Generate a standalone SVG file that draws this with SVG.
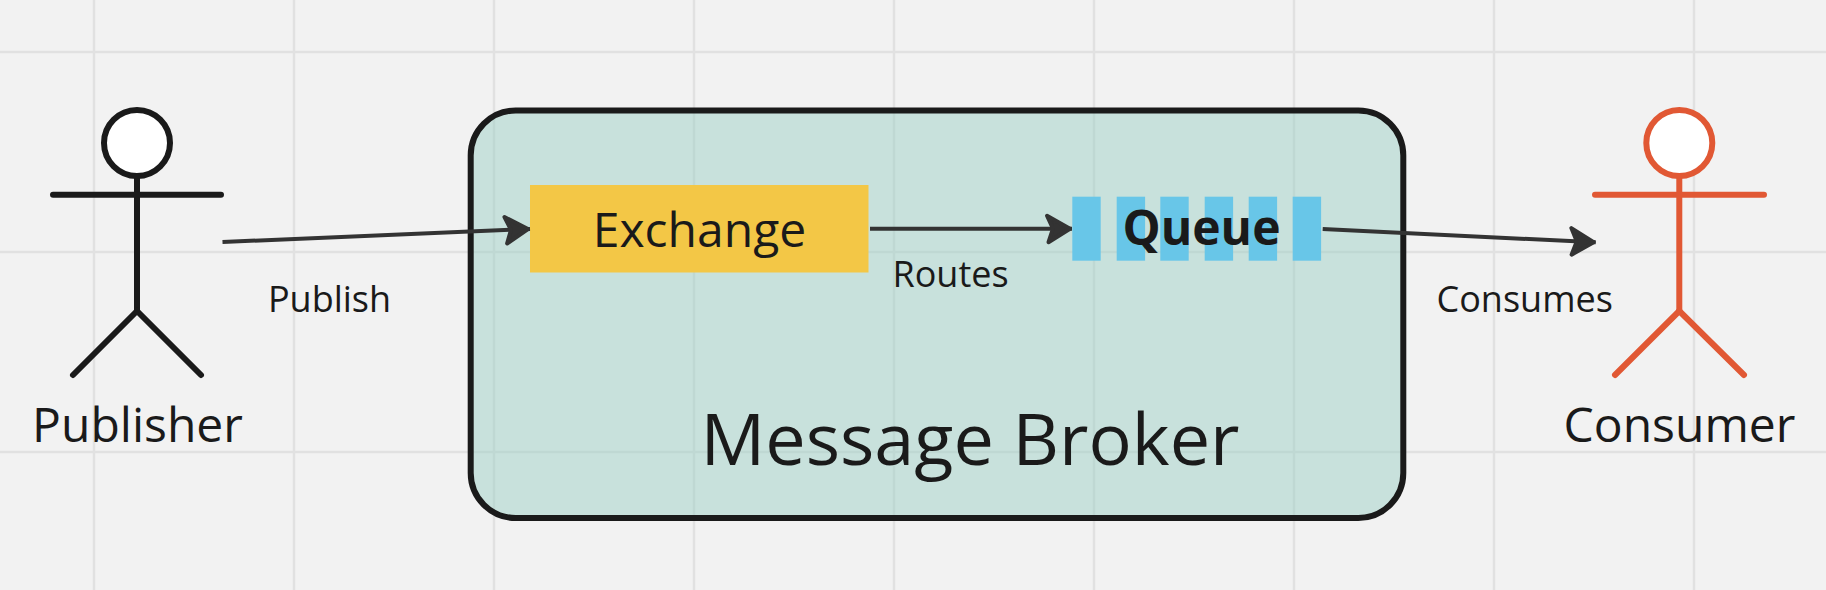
<svg xmlns="http://www.w3.org/2000/svg" width="1826" height="590" viewBox="0 0 1826 590">
<style>
text{font-family:"Open Sans","Noto Sans",sans-serif;fill:#1a1a1a}
.grid line{stroke:#e1e1e1;stroke-width:2.4}
.actor line{stroke-width:6;stroke-linecap:round;fill:none}
.actor circle{fill:#fff;stroke-width:6}
.pub line,.pub circle{stroke:#1a1a1a}
.con line,.con circle{stroke:#e15834}
.bar{fill:#68c6e8}
.conn line{stroke:#333;stroke-width:4;marker-end:url(#arrow)}
.edge{font-size:36px}
.big{font-size:48px}
</style>
<defs>
<marker id="arrow" markerUnits="userSpaceOnUse" markerWidth="36" markerHeight="40" viewBox="-32 -20 36 40" refX="0" refY="0" orient="auto">
<path d="M-25,-13 L-2,0 L-23.5,13.5 L-19,0 Z" fill="#333" stroke="#333" stroke-width="4" stroke-linejoin="round"/>
</marker>
</defs>
<rect width="1826" height="590" fill="#f2f2f2"/>
<g class="grid">
<line x1="94" y1="0" x2="94" y2="590"/><line x1="294" y1="0" x2="294" y2="590"/><line x1="494" y1="0" x2="494" y2="590"/><line x1="694" y1="0" x2="694" y2="590"/><line x1="894" y1="0" x2="894" y2="590"/><line x1="1094" y1="0" x2="1094" y2="590"/><line x1="1294" y1="0" x2="1294" y2="590"/><line x1="1494" y1="0" x2="1494" y2="590"/><line x1="1694" y1="0" x2="1694" y2="590"/>
<line x1="0" y1="52" x2="1826" y2="52"/><line x1="0" y1="252" x2="1826" y2="252"/><line x1="0" y1="452" x2="1826" y2="452"/>
</g>
<g id="broker">
<rect x="470.7" y="110.5" width="932.6" height="407.5" rx="45" ry="45" fill="#9ed0c6" fill-opacity="0.5" stroke="#1a1a1a" stroke-width="6"/>
<text x="970" y="465" font-size="72" text-anchor="middle">Message Broker</text>
</g>
<g id="publisher" class="actor pub">
<line x1="137" y1="175" x2="137" y2="311"/>
<circle cx="137" cy="143" r="33"/>
<line x1="53" y1="194.7" x2="221" y2="194.7"/>
<line x1="137" y1="311" x2="73" y2="375"/>
<line x1="137" y1="311" x2="201" y2="375"/>
<text x="137.5" y="441.7" class="big" text-anchor="middle">Publisher</text>
</g>
<g id="exchange">
<rect x="530" y="185" width="338.5" height="87.5" fill="#f3c746"/>
<text x="699.5" y="246.7" class="big" text-anchor="middle">Exchange</text>
</g>
<g id="queue">
<rect class="bar" x="1072.3" y="196.7" width="28.4" height="64"/>
<rect class="bar" x="1116.7" y="196.7" width="28.4" height="64"/>
<rect class="bar" x="1160.3" y="196.7" width="28.4" height="64"/>
<rect class="bar" x="1204.7" y="196.7" width="28.4" height="64"/>
<rect class="bar" x="1248.7" y="196.7" width="28.4" height="64"/>
<rect class="bar" x="1292.7" y="196.7" width="28.4" height="64"/>
<text x="1201.5" y="245" font-size="48" font-weight="700" text-anchor="middle">Queue</text>
</g>
<g id="consumer" class="actor con">
<line x1="1679.3" y1="175" x2="1679.3" y2="311"/>
<circle cx="1679.3" cy="143" r="33"/>
<line x1="1595" y1="194.7" x2="1764" y2="194.7"/>
<line x1="1679.3" y1="311" x2="1615" y2="375"/>
<line x1="1679.3" y1="311" x2="1744" y2="375"/>
<text x="1679.5" y="441.7" class="big" text-anchor="middle">Consumer</text>
</g>
<g id="connectors" class="conn">
<line x1="222.5" y1="242" x2="530" y2="229"/>
<line x1="870" y1="228.7" x2="1072" y2="228.7"/>
<line x1="1322.7" y1="229" x2="1595.7" y2="242.3"/>
</g>
<g id="labels">
<text x="329.5" y="311.7" class="edge" text-anchor="middle">Publish</text>
<text x="950.5" y="286.5" class="edge" text-anchor="middle">Routes</text>
<text x="1524.7" y="311.7" class="edge" text-anchor="middle">Consumes</text>
</g>
</svg>
